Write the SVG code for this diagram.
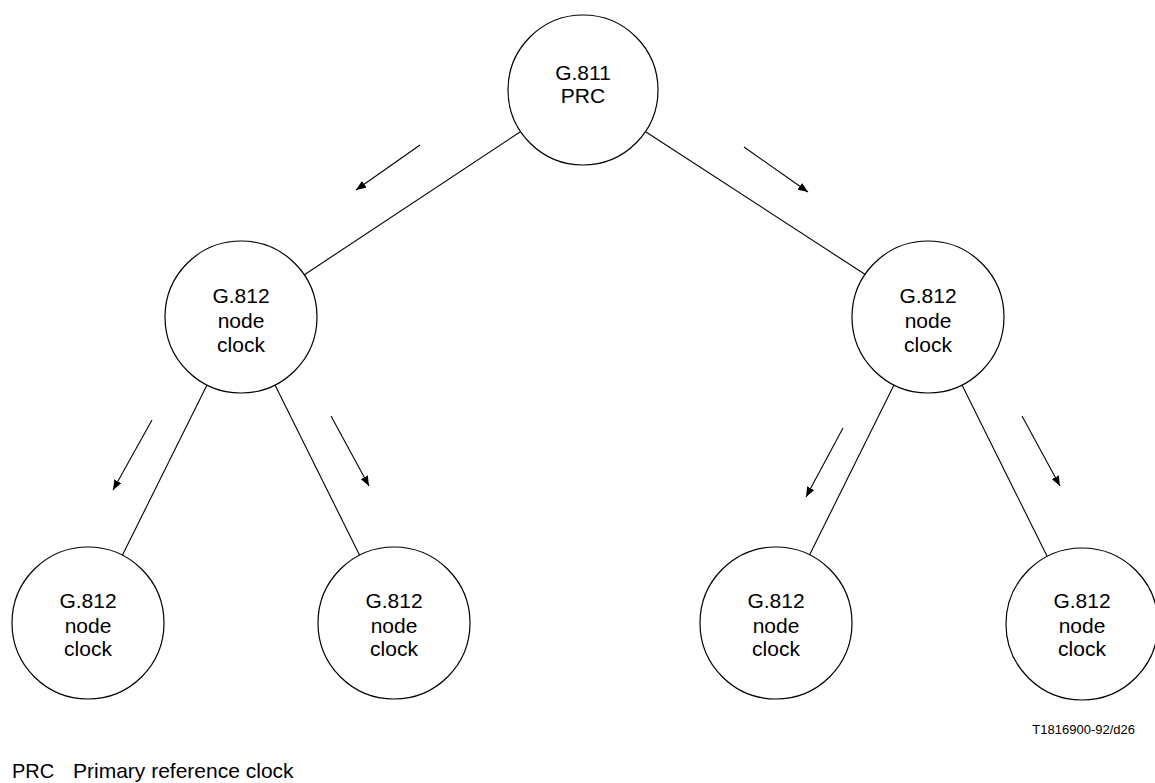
<svg xmlns="http://www.w3.org/2000/svg" width="1155" height="783" viewBox="0 0 1155 783">
  <style>
    .node circle { fill: #ffffff; stroke: #000000; stroke-width: 1.2; }
    .node text, .label { font-family: "Liberation Sans", Arial, sans-serif; fill: #000000; }
    .node text { font-size: 21px; text-anchor: middle; }
    .link { stroke: #000000; stroke-width: 1.1; fill: none; }
    .flow { stroke: #000000; stroke-width: 1.1; fill: none; marker-end: url(#head); }
  </style>
  <defs>
    <marker id="head" viewBox="0 0 10 8" refX="10" refY="4" markerWidth="10" markerHeight="8" markerUnits="userSpaceOnUse" orient="auto">
      <path d="M0,0 L10,4 L0,8 Z" fill="#000000"/>
    </marker>
  </defs>

  <!-- connectors between clocks, plus direction-of-timing arrows -->
  <g id="connectors">
    <line class="link" x1="520" y1="132" x2="304" y2="275"/>
    <line class="link" x1="646" y1="132" x2="866" y2="275"/>
    <line class="link" x1="207" y1="385" x2="122" y2="556"/>
    <line class="link" x1="275" y1="385" x2="360" y2="556"/>
    <line class="link" x1="894" y1="385" x2="809" y2="556"/>
    <line class="link" x1="962" y1="385" x2="1047" y2="556"/>

    <line class="flow" x1="420" y1="145" x2="356" y2="190"/>
    <line class="flow" x1="744" y1="147" x2="808" y2="192"/>
    <line class="flow" x1="152" y1="420" x2="113" y2="490"/>
    <line class="flow" x1="331" y1="416" x2="369" y2="486"/>
    <line class="flow" x1="843" y1="428" x2="806" y2="497"/>
    <line class="flow" x1="1022" y1="416" x2="1060" y2="486"/>
  </g>

  <g id="prc" class="node">
    <circle cx="583" cy="90" r="75"/>
    <text x="583" y="80">G.811</text>
    <text x="583" y="103">PRC</text>
  </g>

  <g id="node-mid-left" class="node">
    <circle cx="241" cy="317" r="76"/>
    <text x="241" y="303">G.812</text>
    <text x="241" y="328">node</text>
    <text x="241" y="352">clock</text>
  </g>

  <g id="node-mid-right" class="node">
    <circle cx="928" cy="317" r="76"/>
    <text x="928" y="303">G.812</text>
    <text x="928" y="328">node</text>
    <text x="928" y="352">clock</text>
  </g>

  <g id="node-bottom-1" class="node">
    <circle cx="88" cy="623" r="76"/>
    <text x="88" y="608">G.812</text>
    <text x="88" y="633">node</text>
    <text x="88" y="656">clock</text>
  </g>

  <g id="node-bottom-2" class="node">
    <circle cx="394" cy="623" r="76"/>
    <text x="394" y="608">G.812</text>
    <text x="394" y="633">node</text>
    <text x="394" y="656">clock</text>
  </g>

  <g id="node-bottom-3" class="node">
    <circle cx="776" cy="623" r="76"/>
    <text x="776" y="608">G.812</text>
    <text x="776" y="633">node</text>
    <text x="776" y="656">clock</text>
  </g>

  <g id="node-bottom-4" class="node">
    <circle cx="1082" cy="624" r="76"/>
    <text x="1082" y="608">G.812</text>
    <text x="1082" y="633">node</text>
    <text x="1082" y="656">clock</text>
  </g>

  <text class="label" x="1135" y="734" font-size="13" text-anchor="end">T1816900-92/d26</text>
  <text class="label" x="12" y="778" font-size="20">PRC</text>
  <text class="label" x="73" y="778" font-size="21">Primary reference clock</text>
</svg>
